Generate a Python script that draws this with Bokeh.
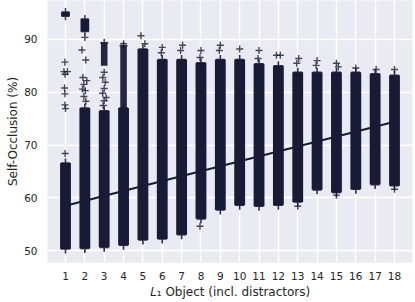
from bokeh.plotting import figure
from bokeh.models import Range1d, FixedTicker
from bokeh.embed import file_html
from bokeh.resources import INLINE

# categories (number of L1 objects)
cats = list(range(1, 19))
# dense band of each strip (lower / upper end, %)
band_lo = [50.3, 50.4, 50.6, 51.0, 52.0, 52.2, 53.0, 56.0, 57.7, 58.6, 58.4, 58.6, 59.2, 61.5, 61.0, 61.6, 62.5, 62.3]
band_hi = [66.6, 77.0, 76.5, 77.0, 88.2, 86.2, 86.2, 85.6, 86.2, 86.2, 85.4, 85.0, 83.8, 83.8, 83.8, 83.8, 83.5, 83.2]
# compact high clusters
cluster_x = [1, 2]
cluster_lo = [94.4, 91.5]
cluster_hi = [95.2, 93.9]
# looser upper tails
tail_x = [3, 4]
tail_lo = [85.0, 77.0]
tail_hi = [89.4, 88.8]
# isolated points (jittered x, value)
out_x = [0.97, 0.92, 1.1, 0.98, 0.95, 0.97, 0.97, 1.0, 0.98,
         2.0, 1.85, 2.05, 1.9, 2.1, 1.95, 1.88, 2.02, 1.95, 2.05,
         3.0, 2.93, 3.05, 3.0, 2.92, 3.1, 3.0, 2.95,
         4.0, 4.9, 5.1, 6.0, 5.95, 7.05, 6.95, 8.0, 7.95, 7.95,
         9.0, 8.95, 10.0, 11.0, 10.95, 11.9, 12.1, 13.05, 12.95, 13.0,
         14.0, 13.95, 15.0, 15.1, 15.0, 16.0, 17.05, 18.0, 18.0]
out_y = [85.7, 83.9, 83.9, 83.4, 80.8, 79.7, 77.6, 76.9, 68.4,
         90.4, 88.0, 86.1, 82.8, 82.2, 81.5, 80.6, 80.3, 79.2, 78.3,
         83.8, 82.8, 81.9, 80.7, 79.8, 79.0, 78.4, 77.5,
         89.2, 90.7, 89.2, 88.5, 87.5, 88.9, 87.9, 87.9, 86.6, 54.6,
         88.9, 87.9, 88.2, 87.9, 86.4, 87.0, 87.0, 86.4, 85.5, 58.4,
         86.0, 85.1, 85.5, 84.8, 60.5, 84.6, 84.3, 84.3, 61.6]
# regression line end points
reg_x = [1, 18]
reg_y = [58.5, 74.4]
y_ticks = [50, 60, 70, 80, 90]

navy = "#181b35"
font = "DejaVu Sans"

p = figure(frame_width=365, frame_height=262,
           x_range=Range1d(0.07, 18.93), y_range=Range1d(47.73, 97.39),
           output_backend="svg", toolbar_location=None,
           min_border_left=47, min_border_right=3, min_border_top=0, min_border_bottom=40,
           background_fill_color="#EAEAF2", border_fill_color="white",
           outline_line_color=None)
p.styles = {"margin-bottom": "-8px"}

for ax in (p.xaxis[0], p.yaxis[0]):
    ax.axis_line_color = None
    ax.major_tick_line_color = None
    ax.minor_tick_line_color = None
    ax.major_tick_out = 0
    ax.major_tick_in = 0
    ax.major_label_text_font = font
    ax.major_label_text_font_size = "10.5px"
    ax.major_label_text_color = "#262626"
    ax.axis_label_text_font = font
    ax.axis_label_text_font_size = "12px"
    ax.axis_label_text_font_style = "normal"
    ax.axis_label_text_color = "#262626"

p.xaxis.ticker = FixedTicker(ticks=cats)
p.yaxis.ticker = FixedTicker(ticks=y_ticks)
p.xaxis.major_label_standoff = 9
p.xaxis.axis_label_standoff = 2
p.yaxis.major_label_standoff = 10
p.yaxis.axis_label_standoff = 1
p.xaxis.axis_label = "\U0001D43F\u2081 Object (incl. distractors)"
p.yaxis.axis_label = "Self-Occlusion (%)"

p.xgrid.ticker = FixedTicker(ticks=cats)
p.ygrid.ticker = FixedTicker(ticks=y_ticks)
for g in (p.xgrid[0], p.ygrid[0]):
    g.grid_line_color = "white"
    g.grid_line_width = 1.5

p.vbar(x=cats, bottom=band_lo, top=band_hi, width=0.56, fill_color=navy, line_color=None)
p.vbar(x=cluster_x, bottom=cluster_lo, top=cluster_hi, width=0.45, fill_color=navy, line_color=None)
p.vbar(x=tail_x, bottom=tail_lo, top=tail_hi, width=0.34, fill_color=navy, fill_alpha=0.95, line_color=None)
p.scatter(x=cats + cats, y=band_lo + band_hi, marker="cross", size=9, line_width=1.6, line_color=navy, line_alpha=0.9)
p.scatter(x=cluster_x + cluster_x + tail_x, y=cluster_lo + cluster_hi + tail_hi, marker="cross", size=8, line_width=1.5, line_color=navy, line_alpha=0.85)
p.scatter(x=out_x, y=out_y, marker="cross", size=7, line_width=1.4, line_color=navy, line_alpha=0.8)
p.line(x=reg_x, y=reg_y, line_width=2, line_color=navy)

open("out.html", "w").write(file_html(p, INLINE))
